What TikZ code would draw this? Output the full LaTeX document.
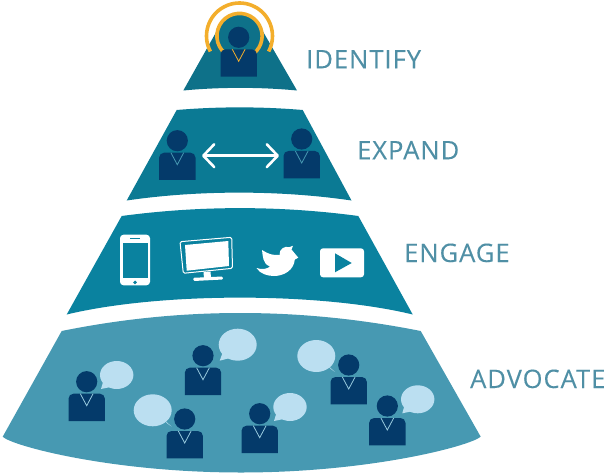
\documentclass[tikz,border=0pt]{standalone}
\usepackage{fontspec}
\setmainfont[LetterSpace=4,FakeBold=0.2]{Open Sans}
\usetikzlibrary{arrows.meta,calc}
\definecolor{tealA}{HTML}{0E7189}
\definecolor{tealB}{HTML}{0B7A94}
\definecolor{tealC}{HTML}{0A829F}
\definecolor{tealD}{HTML}{4799B2}
\definecolor{navy}{HTML}{043A6A}
\definecolor{bubblec}{HTML}{BBDFF1}
\definecolor{labelc}{HTML}{4F8FA5}
\definecolor{ringc}{HTML}{F3AE2C}
\tikzset{
  steplabel/.style={anchor=base west,inner sep=0pt,text=labelc,font=\fontsize{25.5}{25.5}\selectfont},
  ringline/.style={draw=ringc,line width=3.6pt},
  arrowline/.style={draw=white,line width=2.6pt,{Straight Barb[length=11pt,width=23pt,line width=2.6pt,round]}-{Straight Barb[length=11pt,width=23pt,line width=2.6pt,round]}}
}
\newcommand{\personfig}[3]{%
  \fill[navy] (#1,#2) circle (10.6);
  \fill[navy,rounded corners=5pt] ($(#1,#2)+(-18.2,39.3)$) [sharp corners] -- ($(#1,#2)+(-18.2,25)$) [rounded corners=5pt] -- ($(#1,#2)+(-18.2,12)$) -- ($(#1,#2)+(18.2,12)$) -- ($(#1,#2)+(18.2,25)$) [sharp corners] -- ($(#1,#2)+(18.2,39.3)$) -- cycle;
  \draw[#3,line width=0.8pt] ($(#1,#2)+(-6.4,12)$) -- ($(#1,#2)+(0,24)$) -- ($(#1,#2)+(6.4,12)$);
}
\newcommand{\bubblefig}[6]{%
  \fill[bubblec] (#1,#2) ellipse [x radius=#3,y radius=#4];
  \fill[bubblec] (#5,#6) -- ($(#1,#2)!0.55!(#5,#6)+(-4,-4)$) -- ($(#1,#2)!0.55!(#5,#6)+(4,4)$) -- cycle;
}
\begin{document}
\begin{tikzpicture}[x=1pt,y=-1pt]
\useasboundingbox (0,0) rectangle (607,473);
% layers
\fill[tealA] (183.3,90.5) -- (219,27) arc[start angle=203.7,end angle=336.3,radius=22.6] -- (297,90.5) .. controls (260,87) and (220,87) .. cycle;
\fill[tealB] (126.7,200.5) -- (176.7,110) .. controls (218,106.5) and (261,106.5) .. (302.7,110) -- (351.5,200.5) .. controls (280,190) and (198,190) .. cycle;
\fill[tealC] (66.7,314.5) -- (121.7,216) .. controls (200,205.5) and (280,205.5) .. (358.3,216) -- (412.7,314.5) .. controls (320,292) and (160,292) .. cycle;
\fill[tealD] (2.7,436.7) -- (61.7,331) .. controls (180,307) and (300,307) .. (420.7,331) -- (480.7,436.7) .. controls (470,446) and (370,472.5) .. (241,472.5) .. controls (112,472.5) and (12,446) .. cycle;
% rings
\draw[ringline] (239.5,36) ++(152:33) arc[start angle=152,end angle=388,radius=33];
\draw[ringline] (239.5,36) ++(130:22.6) arc[start angle=130,end angle=410,radius=22.6];
% persons
\personfig{238.7}{37.3}{ringc}
\personfig{177.3}{140.7}{tealD}
\personfig{301.7}{139}{tealD}
\bubblefig{116.7}{375}{16.7}{14}{101}{389}
\bubblefig{237.7}{344.7}{19}{16}{219.7}{360.7}
\bubblefig{152.7}{410.3}{19}{16}{171.7}{426.7}
\bubblefig{290}{407}{16.7}{14}{274}{421}
\bubblefig{316.3}{356}{19}{16}{335}{372}
\bubblefig{417.7}{399.3}{16.7}{14}{402.3}{413.3}
\personfig{86.7}{381.7}{bubblec!70!tealD}
\personfig{203}{355.7}{bubblec!70!tealD}
\personfig{184.7}{419}{bubblec!70!tealD}
\personfig{259.7}{413.7}{bubblec!70!tealD}
\personfig{348.7}{365}{bubblec!70!tealD}
\personfig{387.3}{406}{bubblec!70!tealD}
% double arrow
\coordinate (arrowL) at (202,155.7);
\coordinate (arrowR) at (279,155.7);
\draw[arrowline] (arrowL) -- (arrowR);
% phone
\fill[white,rounded corners=3.5pt] (120,234.7) rectangle (150,285.3);
\fill[tealC] (123,243.3) rectangle (147.7,278.3);
\fill[tealC] (130,237.7) rectangle (140,239);
\fill[tealC] (135,282.4) circle (1.9);
% monitor
\draw[white,line width=1pt,rounded corners=1.5pt] (180,241.7) -- (231.7,237.3) -- (232.5,268.3) -- (183.3,273.3) -- cycle;
\fill[white] (185,245) -- (228.3,241) -- (229,266) -- (186.7,270.7) -- cycle;
\fill[white] (203.5,272) -- (210.5,271.5) -- (211,278) -- (204,278.5) -- cycle;
\fill[white,rounded corners=1pt] (193.3,277.8) -- (222.5,276.5) -- (223,279.5) -- (193.6,281) -- cycle;
% bird
\fill[white] (279.5,255) .. controls (279,249) and (285,245.5) .. (289,247.2) -- (293,245.8) -- (291.5,249.5) -- (298.3,257.7) -- (294.8,259.5)
  .. controls (294,270) and (284,276) .. (274,276) .. controls (268,276) and (260,274) .. (256.5,268)
  .. controls (262,270) and (267,269) .. (270,266.5) .. controls (266,265) and (264,262) .. (263.5,259.5)
  .. controls (263,256) and (262,253) .. (262,250) .. controls (268,254) and (273,255.5) .. (279.5,255) -- cycle;
% play
\fill[white,rounded corners=3pt] (320,248.3) rectangle (364,277.3);
\fill[tealC] (335,253.3) -- (351.7,263) -- (335,272.3) -- cycle;
% labels
\node[steplabel] (identify) at (306,68.3) {IDENTIFY};
\node[steplabel] (expand) at (357,159.3) {EXPAND};
\node[steplabel] (engage) at (404,262) {ENGAGE};
\node[steplabel] (advocate) at (470,388) {ADVOCATE};
\end{tikzpicture}
\end{document}
